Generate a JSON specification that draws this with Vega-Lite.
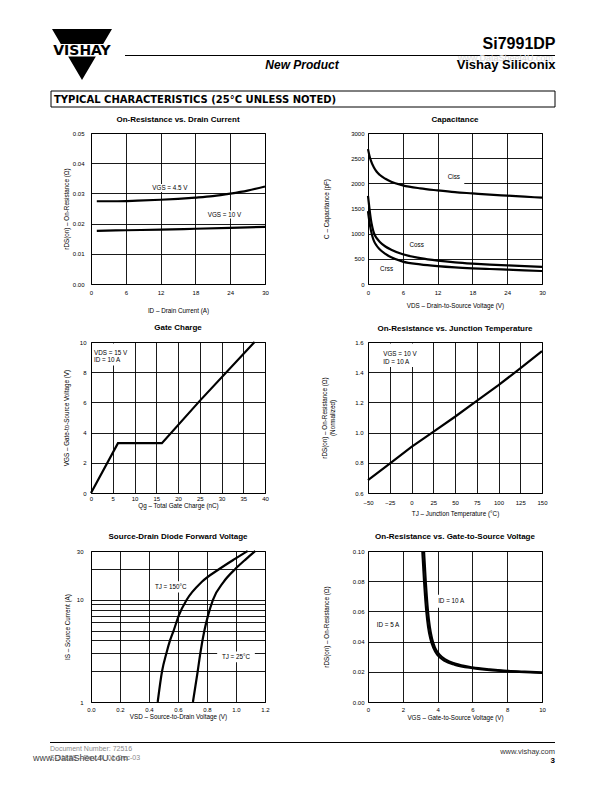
{
  "$schema": "https://vega.github.io/schema/vega-lite/v6.json",
  "background": "white",
  "padding": {"left": 33, "top": 29, "right": 4, "bottom": 4},
  "columns": 2,
  "bounds": "flush",
  "align": "each",
  "spacing": {"row": 58, "column": 103},
  "config": {
    "font": "Liberation Sans",
    "view": {"stroke": "black", "strokeWidth": 1},
    "axis": {"domain": false, "ticks": false, "tickSize": 0, "grid": true, "gridColor": "black", "gridOpacity": 1, "gridWidth": 0.9,
      "labelFont": "Liberation Sans", "labelFontSize": 6, "labelColor": "black", "labelFlush": false, "labelOverlap": false, "labelBound": false,
      "titleFont": "Liberation Sans", "titleFontSize": 6.3, "titleFontWeight": "normal", "titleColor": "black"},
    "title": {"font": "Liberation Sans", "fontSize": 8, "fontWeight": "bold", "color": "black", "offset": 6, "anchor": "middle"},
    "line": {"stroke": "black", "strokeWidth": 2.2},
    "text": {"font": "Liberation Sans", "fontSize": 6.3, "fill": "black"}
  },
  "datasets": {
    "p1": [
      {"s": "4.5", "x": 1, "y": 0.0274}, {"s": "4.5", "x": 4, "y": 0.0274}, {"s": "4.5", "x": 8, "y": 0.0276}, {"s": "4.5", "x": 12, "y": 0.0279},
      {"s": "4.5", "x": 15, "y": 0.0282}, {"s": "4.5", "x": 18, "y": 0.0286}, {"s": "4.5", "x": 21, "y": 0.0291}, {"s": "4.5", "x": 24, "y": 0.0299},
      {"s": "4.5", "x": 27, "y": 0.0309}, {"s": "4.5", "x": 30, "y": 0.0323},
      {"s": "10", "x": 1, "y": 0.0176}, {"s": "10", "x": 6, "y": 0.0178}, {"s": "10", "x": 12, "y": 0.018}, {"s": "10", "x": 18, "y": 0.0183},
      {"s": "10", "x": 24, "y": 0.0186}, {"s": "10", "x": 30, "y": 0.0189}
    ],
    "p1a": [{"t": "VGS = 4.5 V", "x": 13.6, "y": 0.0318}, {"t": "VGS = 10 V", "x": 23.0, "y": 0.023}],
    "p1b": [{"x": 10.8, "x2": 16.4, "y": 0.0305, "y2": 0.0331}, {"x": 20.1, "x2": 26.0, "y": 0.0217, "y2": 0.0243}],
    "p2": [
      {"s": "Ciss", "x": 0, "y": 2680}, {"s": "Ciss", "x": 0.25, "y": 2550}, {"s": "Ciss", "x": 0.5, "y": 2450}, {"s": "Ciss", "x": 1, "y": 2320},
      {"s": "Ciss", "x": 1.5, "y": 2230}, {"s": "Ciss", "x": 2, "y": 2170}, {"s": "Ciss", "x": 3, "y": 2090}, {"s": "Ciss", "x": 4, "y": 2030},
      {"s": "Ciss", "x": 6, "y": 1960}, {"s": "Ciss", "x": 9, "y": 1900}, {"s": "Ciss", "x": 12, "y": 1860}, {"s": "Ciss", "x": 15, "y": 1825},
      {"s": "Ciss", "x": 18, "y": 1800}, {"s": "Ciss", "x": 21, "y": 1775}, {"s": "Ciss", "x": 24, "y": 1755}, {"s": "Ciss", "x": 27, "y": 1735},
      {"s": "Ciss", "x": 30, "y": 1715},
      {"s": "Coss", "x": 0, "y": 1750}, {"s": "Coss", "x": 0.25, "y": 1500}, {"s": "Coss", "x": 0.5, "y": 1280}, {"s": "Coss", "x": 0.75, "y": 1130},
      {"s": "Coss", "x": 1, "y": 1020}, {"s": "Coss", "x": 1.5, "y": 910}, {"s": "Coss", "x": 2, "y": 840}, {"s": "Coss", "x": 3, "y": 745},
      {"s": "Coss", "x": 4, "y": 680}, {"s": "Coss", "x": 6, "y": 590}, {"s": "Coss", "x": 9, "y": 515}, {"s": "Coss", "x": 12, "y": 465},
      {"s": "Coss", "x": 15, "y": 430}, {"s": "Coss", "x": 18, "y": 405}, {"s": "Coss", "x": 21, "y": 385}, {"s": "Coss", "x": 24, "y": 370},
      {"s": "Coss", "x": 27, "y": 355}, {"s": "Coss", "x": 30, "y": 340},
      {"s": "Crss", "x": 0, "y": 1450}, {"s": "Crss", "x": 0.25, "y": 1230}, {"s": "Crss", "x": 0.5, "y": 1070}, {"s": "Crss", "x": 0.75, "y": 950},
      {"s": "Crss", "x": 1, "y": 860}, {"s": "Crss", "x": 1.5, "y": 760}, {"s": "Crss", "x": 2, "y": 690}, {"s": "Crss", "x": 3, "y": 600},
      {"s": "Crss", "x": 4, "y": 530}, {"s": "Crss", "x": 6, "y": 445}, {"s": "Crss", "x": 9, "y": 390}, {"s": "Crss", "x": 12, "y": 355},
      {"s": "Crss", "x": 15, "y": 330}, {"s": "Crss", "x": 18, "y": 312}, {"s": "Crss", "x": 21, "y": 298}, {"s": "Crss", "x": 24, "y": 285},
      {"s": "Crss", "x": 27, "y": 272}, {"s": "Crss", "x": 30, "y": 258}
    ],
    "p2a": [{"t": "Ciss", "x": 14.8, "y": 2128}, {"t": "Coss", "x": 8.4, "y": 773}, {"t": "Crss", "x": 3.2, "y": 291}],
    "p2b": [{"x": 12.4, "x2": 16.6, "y": 1980, "y2": 2280}],
    "p3": [{"s": "q", "x": 0, "y": 0}, {"s": "q", "x": 6.2, "y": 3.3}, {"s": "q", "x": 16.3, "y": 3.3}, {"s": "q", "x": 25, "y": 6.1}, {"s": "q", "x": 37.6, "y": 10}],
    "p3a": [{"t": "VDS = 15 V", "x": 0.7, "y": 9.25}, {"t": "ID = 10 A", "x": 0.7, "y": 8.78}],
    "p3b": [{"x": 0.3, "x2": 9.6, "y": 8.45, "y2": 9.9}],
    "p4": [
      {"s": "t", "x": -50, "y": 0.685}, {"s": "t", "x": -25, "y": 0.795}, {"s": "t", "x": 0, "y": 0.905}, {"s": "t", "x": 25, "y": 1.005},
      {"s": "t", "x": 50, "y": 1.105}, {"s": "t", "x": 75, "y": 1.21}, {"s": "t", "x": 100, "y": 1.315}, {"s": "t", "x": 125, "y": 1.425},
      {"s": "t", "x": 150, "y": 1.54}
    ],
    "p4a": [{"t": "VGS = 10 V", "x": -32.5, "y": 1.523}, {"t": "ID = 10 A", "x": -32.5, "y": 1.47}],
    "p4b": [{"x": -45, "x2": 12, "y": 1.435, "y2": 1.59}],
    "p5": [
      {"s": "150", "x": 0.46, "y": 1}, {"s": "150", "x": 0.49, "y": 2}, {"s": "150", "x": 0.52, "y": 3}, {"s": "150", "x": 0.545, "y": 4},
      {"s": "150", "x": 0.57, "y": 5}, {"s": "150", "x": 0.605, "y": 7}, {"s": "150", "x": 0.66, "y": 10}, {"s": "150", "x": 0.765, "y": 15},
      {"s": "150", "x": 0.885, "y": 20}, {"s": "150", "x": 0.99, "y": 25}, {"s": "150", "x": 1.08, "y": 30},
      {"s": "25", "x": 0.703, "y": 1}, {"s": "25", "x": 0.736, "y": 2}, {"s": "25", "x": 0.754, "y": 3}, {"s": "25", "x": 0.782, "y": 5},
      {"s": "25", "x": 0.807, "y": 7}, {"s": "25", "x": 0.841, "y": 10}, {"s": "25", "x": 0.915, "y": 15}, {"s": "25", "x": 0.995, "y": 20},
      {"s": "25", "x": 1.069, "y": 25}, {"s": "25", "x": 1.133, "y": 30}
    ],
    "p5a": [{"t": "TJ = 150°C", "x": 0.55, "y": 13.3}, {"t": "TJ = 25°C", "x": 1.0, "y": 2.76}],
    "p5b": [{"x": 0.42, "x2": 0.68, "y": 11.8, "y2": 15.2}, {"x": 0.87, "x2": 1.13, "y": 2.45, "y2": 3.12}],
    "p6": [
      {"s": "10", "x": 3.22, "y": 0.1}, {"s": "10", "x": 3.27, "y": 0.09}, {"s": "10", "x": 3.32, "y": 0.08}, {"s": "10", "x": 3.38, "y": 0.07},
      {"s": "10", "x": 3.45, "y": 0.06}, {"s": "10", "x": 3.55, "y": 0.05}, {"s": "10", "x": 3.68, "y": 0.042}, {"s": "10", "x": 3.85, "y": 0.036},
      {"s": "10", "x": 4.1, "y": 0.0315}, {"s": "10", "x": 4.5, "y": 0.0278}, {"s": "10", "x": 5, "y": 0.0254}, {"s": "10", "x": 6, "y": 0.0229},
      {"s": "10", "x": 7, "y": 0.0216}, {"s": "10", "x": 8, "y": 0.0207}, {"s": "10", "x": 9, "y": 0.0201}, {"s": "10", "x": 10, "y": 0.0196},
      {"s": "5", "x": 3.12, "y": 0.1}, {"s": "5", "x": 3.17, "y": 0.09}, {"s": "5", "x": 3.22, "y": 0.08}, {"s": "5", "x": 3.28, "y": 0.07},
      {"s": "5", "x": 3.35, "y": 0.06}, {"s": "5", "x": 3.45, "y": 0.05}, {"s": "5", "x": 3.58, "y": 0.042}, {"s": "5", "x": 3.75, "y": 0.036},
      {"s": "5", "x": 4.0, "y": 0.031}, {"s": "5", "x": 4.4, "y": 0.0272}, {"s": "5", "x": 5, "y": 0.0246}, {"s": "5", "x": 6, "y": 0.0224},
      {"s": "5", "x": 7, "y": 0.0211}, {"s": "5", "x": 8, "y": 0.0203}, {"s": "5", "x": 9, "y": 0.0197}, {"s": "5", "x": 10, "y": 0.0192}
    ],
    "p6a": [{"t": "ID = 10 A", "x": 4.78, "y": 0.0668}, {"t": "ID = 5 A", "x": 1.15, "y": 0.0512}],
    "p6b": [{"x": 3.85, "x2": 5.7, "y": 0.0625, "y2": 0.071}, {"x": 0.35, "x2": 1.95, "y": 0.047, "y2": 0.0555}]
  },
  "concat": [
    {
      "width": 174, "height": 45.5,
      "view": {"stroke": null},
      "layer": [
        {"data": {"values": [{"t": "logo"}]},
         "mark": {"type": "point", "shape": "M-1,-0.85L1,-0.85L0.706,-0.35L-0.706,-0.35ZM-0.461,0.067L0.461,0.067L0,0.85Z", "size": 3600, "filled": true, "fill": "black", "strokeWidth": 0, "opacity": 1},
         "encoding": {"x": {"datum": 82, "type": "quantitative", "scale": {"domain": [91, 265], "nice": false, "zero": false}, "axis": null},
                      "y": {"datum": 54.5, "type": "quantitative", "scale": {"domain": [29, 74.5], "nice": false, "zero": false, "reverse": true}, "axis": null}}},
        {"data": {"values": [{"t": "VISHAY"}]},
         "mark": {"type": "text", "font": "DejaVu Sans", "fontWeight": "bold", "fontSize": 14, "align": "center", "baseline": "alphabetic", "fill": "black"},
         "encoding": {"x": {"datum": 82, "type": "quantitative", "scale": {"domain": [91, 265], "nice": false, "zero": false}, "axis": null},
                      "y": {"datum": 55, "type": "quantitative", "scale": {"domain": [29, 74.5], "nice": false, "zero": false, "reverse": true}, "axis": null},
                      "text": {"field": "t"}}},
        {"data": {"values": [{"t": "rule"}]},
         "mark": {"type": "rule", "stroke": "black", "strokeWidth": 1.2},
         "encoding": {"x": {"datum": 125, "type": "quantitative", "scale": {"domain": [91, 265], "nice": false, "zero": false}, "axis": null},
                      "x2": {"datum": 555},
                      "y": {"datum": 55.5, "type": "quantitative", "scale": {"domain": [29, 74.5], "nice": false, "zero": false, "reverse": true}, "axis": null}}},
        {"data": {"values": [{"t": "New Product"}]},
         "mark": {"type": "text", "font": "Liberation Sans", "fontWeight": "bold", "fontStyle": "italic", "fontSize": 12, "align": "center", "baseline": "alphabetic", "fill": "black"},
         "encoding": {"x": {"datum": 302, "type": "quantitative", "scale": {"domain": [91, 265], "nice": false, "zero": false}, "axis": null},
                      "y": {"datum": 69, "type": "quantitative", "scale": {"domain": [29, 74.5], "nice": false, "zero": false, "reverse": true}, "axis": null},
                      "text": {"field": "t"}}},
        {"data": {"values": [{"t": "www.DataSheet4U.com"}]},
         "mark": {"type": "text", "font": "Liberation Sans", "fontSize": 9, "align": "right", "baseline": "alphabetic", "fill": "#d8d8d8"},
         "encoding": {"x": {"datum": 553, "type": "quantitative", "scale": {"domain": [91, 265], "nice": false, "zero": false}, "axis": null},
                      "y": {"datum": 61, "type": "quantitative", "scale": {"domain": [29, 74.5], "nice": false, "zero": false, "reverse": true}, "axis": null},
                      "text": {"field": "t"}}},
        {"data": {"values": [{"t": "box"}]},
         "mark": {"type": "rect", "fill": "white", "stroke": "black", "strokeWidth": 1},
         "encoding": {"x": {"datum": 51, "type": "quantitative", "scale": {"domain": [91, 265], "nice": false, "zero": false}, "axis": null},
                      "x2": {"datum": 555},
                      "y": {"datum": 91, "type": "quantitative", "scale": {"domain": [29, 74.5], "nice": false, "zero": false, "reverse": true}, "axis": null},
                      "y2": {"datum": 107}}},
        {"data": {"values": [{"t": "TYPICAL CHARACTERISTICS (25°C UNLESS NOTED)"}]},
         "mark": {"type": "text", "font": "DejaVu Sans", "fontWeight": "bold", "fontSize": 10, "align": "left", "baseline": "alphabetic", "fill": "black"},
         "encoding": {"x": {"datum": 54, "type": "quantitative", "scale": {"domain": [91, 265], "nice": false, "zero": false}, "axis": null},
                      "y": {"datum": 103, "type": "quantitative", "scale": {"domain": [29, 74.5], "nice": false, "zero": false, "reverse": true}, "axis": null},
                      "text": {"field": "t"}}}
      ]
    },
    {
      "width": 174, "height": 45.5,
      "view": {"stroke": null},
      "layer": [
        {"data": {"values": [{"t": "Si7991DP"}]},
         "mark": {"type": "text", "font": "Liberation Sans", "fontWeight": "bold", "fontSize": 16, "align": "right", "baseline": "alphabetic", "fill": "black"},
         "encoding": {"x": {"datum": 555.5, "type": "quantitative", "scale": {"domain": [368, 542], "nice": false, "zero": false}, "axis": null},
                      "y": {"datum": 49, "type": "quantitative", "scale": {"domain": [29, 74.5], "nice": false, "zero": false, "reverse": true}, "axis": null},
                      "text": {"field": "t"}}},
        {"data": {"values": [{"t": "Vishay Siliconix"}]},
         "mark": {"type": "text", "font": "Liberation Sans", "fontWeight": "bold", "fontSize": 13, "align": "right", "baseline": "alphabetic", "fill": "black"},
         "encoding": {"x": {"datum": 555.5, "type": "quantitative", "scale": {"domain": [368, 542], "nice": false, "zero": false}, "axis": null},
                      "y": {"datum": 68.5, "type": "quantitative", "scale": {"domain": [29, 74.5], "nice": false, "zero": false, "reverse": true}, "axis": null},
                      "text": {"field": "t"}}}
      ]
    },
    {
      "width": 174, "height": 151,
      "title": "On-Resistance vs. Drain Current",
      "encoding": {
        "x": {"field": "x", "type": "quantitative", "scale": {"domain": [0, 30], "nice": false, "zero": false},
              "axis": {"values": [0, 6, 12, 18, 24, 30], "format": "d", "title": "ID  –  Drain Current (A)", "labelPadding": 5, "titlePadding": 12}},
        "y": {"field": "y", "type": "quantitative", "scale": {"domain": [0, 0.05], "nice": false, "zero": false},
              "axis": {"values": [0, 0.01, 0.02, 0.03, 0.04, 0.05], "format": ".2f", "title": "rDS(on)  –  On-Resistance (Ω)", "labelPadding": 7, "titlePadding": 3}}
      },
      "layer": [
        {"data": {"name": "p1b"}, "mark": {"type": "rect", "fill": "white"}, "encoding": {"x2": {"field": "x2"}, "y2": {"field": "y2"}}},
        {"data": {"name": "p1"}, "mark": {"type": "line", "interpolate": "monotone"}, "encoding": {"detail": {"field": "s"}}},
        {"data": {"name": "p1a"}, "mark": {"type": "text"}, "encoding": {"text": {"field": "t"}}}
      ]
    },
    {
      "width": 174, "height": 151,
      "title": "Capacitance",
      "encoding": {
        "x": {"field": "x", "type": "quantitative", "scale": {"domain": [0, 30], "nice": false, "zero": false},
              "axis": {"values": [0, 6, 12, 18, 24, 30], "format": "d", "title": "VDS  –  Drain-to-Source Voltage (V)", "labelPadding": 5, "titlePadding": 7}},
        "y": {"field": "y", "type": "quantitative", "scale": {"domain": [0, 3000], "nice": false, "zero": false},
              "axis": {"values": [0, 500, 1000, 1500, 2000, 2500, 3000], "format": "d", "title": "C  –  Capacitance (pF)", "labelPadding": 4, "titlePadding": 21}}
      },
      "layer": [
        {"data": {"name": "p2b"}, "mark": {"type": "rect", "fill": "white"}, "encoding": {"x2": {"field": "x2"}, "y2": {"field": "y2"}}},
        {"data": {"name": "p2"}, "mark": {"type": "line", "interpolate": "monotone"}, "encoding": {"detail": {"field": "s"}}},
        {"data": {"name": "p2a"}, "mark": {"type": "text"}, "encoding": {"text": {"field": "t"}}}
      ]
    },
    {
      "width": 174, "height": 151,
      "title": "Gate Charge",
      "encoding": {
        "x": {"field": "x", "type": "quantitative", "scale": {"domain": [0, 40], "nice": false, "zero": false},
              "axis": {"values": [0, 5, 10, 15, 20, 25, 30, 35, 40], "format": "d", "title": "Qg  –  Total Gate Charge (nC)", "labelPadding": 2, "titlePadding": 1}},
        "y": {"field": "y", "type": "quantitative", "scale": {"domain": [0, 10], "nice": false, "zero": false},
              "axis": {"values": [0, 2, 4, 6, 8, 10], "format": "d", "title": "VGS  –  Gate-to-Source Voltage (V)", "labelPadding": 5, "titlePadding": 10}}
      },
      "layer": [
        {"data": {"name": "p3b"}, "mark": {"type": "rect", "fill": "white"}, "encoding": {"x2": {"field": "x2"}, "y2": {"field": "y2"}}},
        {"data": {"name": "p3"}, "mark": {"type": "line"}, "encoding": {"detail": {"field": "s"}}},
        {"data": {"name": "p3a"}, "mark": {"type": "text", "align": "left"}, "encoding": {"text": {"field": "t"}}}
      ]
    },
    {
      "width": 174, "height": 151,
      "title": "On-Resistance vs. Junction Temperature",
      "encoding": {
        "x": {"field": "x", "type": "quantitative", "scale": {"domain": [-50, 150], "nice": false, "zero": false},
              "axis": {"values": [-50, -25, 0, 25, 50, 75, 100, 125, 150], "format": "d", "title": "TJ – Junction Temperature (°C)", "labelPadding": 6, "titlePadding": 5}},
        "y": {"field": "y", "type": "quantitative", "scale": {"domain": [0.6, 1.6], "nice": false, "zero": false},
              "axis": {"values": [0.6, 0.8, 1.0, 1.2, 1.4, 1.6], "format": ".1f", "title": ["rDS(on)  –  On-Resistance (Ω)", "(Normalized)"], "labelPadding": 5, "titlePadding": 19}}
      },
      "layer": [
        {"data": {"name": "p4b"}, "mark": {"type": "rect", "fill": "white"}, "encoding": {"x2": {"field": "x2"}, "y2": {"field": "y2"}}},
        {"data": {"name": "p4"}, "mark": {"type": "line"}, "encoding": {"detail": {"field": "s"}}},
        {"data": {"name": "p4a"}, "mark": {"type": "text", "align": "left"}, "encoding": {"text": {"field": "t"}}}
      ]
    },
    {
      "width": 174, "height": 151,
      "title": "Source-Drain Diode Forward Voltage",
      "encoding": {
        "x": {"field": "x", "type": "quantitative", "scale": {"domain": [0, 1.2], "nice": false, "zero": false},
              "axis": {"values": [0, 0.2, 0.4, 0.6, 0.8, 1.0, 1.2], "format": ".1f", "title": "VSD  –  Source-to-Drain Voltage (V)", "labelPadding": 4, "titlePadding": 1.5}},
        "y": {"field": "y", "type": "quantitative", "scale": {"type": "log", "domain": [1, 30], "nice": false},
              "axis": {"values": [1, 2, 3, 4, 5, 6, 7, 8, 9, 10, 20, 30], "format": "d", "labelExpr": "datum.value == 1 || datum.value == 10 || datum.value == 30 ? datum.label : ''", "title": "IS  –  Source Current (A)", "labelPadding": 8, "titlePadding": 6}}
      },
      "layer": [
        {"data": {"name": "p5b"}, "mark": {"type": "rect", "fill": "white"}, "encoding": {"x2": {"field": "x2"}, "y2": {"field": "y2"}}},
        {"data": {"name": "p5"}, "mark": {"type": "line", "interpolate": "monotone"}, "encoding": {"detail": {"field": "s"}}},
        {"data": {"name": "p5a"}, "mark": {"type": "text"}, "encoding": {"text": {"field": "t"}}}
      ]
    },
    {
      "width": 174, "height": 151,
      "title": "On-Resistance vs. Gate-to-Source Voltage",
      "encoding": {
        "x": {"field": "x", "type": "quantitative", "scale": {"domain": [0, 10], "nice": false, "zero": false},
              "axis": {"values": [0, 2, 4, 6, 8, 10], "format": "d", "title": "VGS – Gate-to-Source Voltage (V)", "labelPadding": 4, "titlePadding": 2}},
        "y": {"field": "y", "type": "quantitative", "scale": {"domain": [0, 0.1], "nice": false, "zero": false},
              "axis": {"values": [0, 0.02, 0.04, 0.06, 0.08, 0.1], "format": ".2f", "title": "rDS(on)  –  On-Resistance (Ω)", "labelPadding": 4, "titlePadding": 23}}
      },
      "layer": [
        {"data": {"name": "p6b"}, "mark": {"type": "rect", "fill": "white"}, "encoding": {"x2": {"field": "x2"}, "y2": {"field": "y2"}}},
        {"data": {"name": "p6"}, "mark": {"type": "line", "interpolate": "monotone"}, "encoding": {"detail": {"field": "s"}}},
        {"data": {"name": "p6a"}, "mark": {"type": "text"}, "encoding": {"text": {"field": "t"}}}
      ]
    },
    {
      "width": 174, "height": 20,
      "view": {"stroke": null},
      "layer": [
        {"data": {"values": [{"t": "rule"}]},
         "mark": {"type": "rule", "stroke": "black", "strokeWidth": 1.2},
         "encoding": {"x": {"datum": 50, "type": "quantitative", "scale": {"domain": [91, 265], "nice": false, "zero": false}, "axis": null},
                      "x2": {"datum": 555},
                      "y": {"datum": 742, "type": "quantitative", "scale": {"domain": [759.5, 779.5], "nice": false, "zero": false, "reverse": true}, "axis": null}}},
        {"data": {"values": [{"t": "Document Number:  72516"}]},
         "mark": {"type": "text", "font": "Liberation Sans", "fontSize": 7, "align": "left", "baseline": "alphabetic", "fill": "#8a8a8a"},
         "encoding": {"x": {"datum": 50, "type": "quantitative", "scale": {"domain": [91, 265], "nice": false, "zero": false}, "axis": null},
                      "y": {"datum": 750.5, "type": "quantitative", "scale": {"domain": [759.5, 779.5], "nice": false, "zero": false, "reverse": true}, "axis": null},
                      "text": {"field": "t"}}},
        {"data": {"values": [{"t": "S-31888—Rev. A, 01-Dec-03"}]},
         "mark": {"type": "text", "font": "Liberation Sans", "fontSize": 7, "align": "left", "baseline": "alphabetic", "fill": "#8a8a8a"},
         "encoding": {"x": {"datum": 50, "type": "quantitative", "scale": {"domain": [91, 265], "nice": false, "zero": false}, "axis": null},
                      "y": {"datum": 759, "type": "quantitative", "scale": {"domain": [759.5, 779.5], "nice": false, "zero": false, "reverse": true}, "axis": null},
                      "text": {"field": "t"}}},
        {"data": {"values": [{"t": "www.DataSheet4U.com"}]},
         "mark": {"type": "text", "font": "Liberation Sans", "fontSize": 9, "align": "left", "baseline": "alphabetic", "fill": "#444444"},
         "encoding": {"x": {"datum": 33, "type": "quantitative", "scale": {"domain": [91, 265], "nice": false, "zero": false}, "axis": null},
                      "y": {"datum": 760, "type": "quantitative", "scale": {"domain": [759.5, 779.5], "nice": false, "zero": false, "reverse": true}, "axis": null},
                      "text": {"field": "t"}}}
      ]
    },
    {
      "width": 174, "height": 20,
      "view": {"stroke": null},
      "layer": [
        {"data": {"values": [{"t": "www.vishay.com"}]},
         "mark": {"type": "text", "font": "Liberation Sans", "fontSize": 7.5, "align": "right", "baseline": "alphabetic", "fill": "#333333"},
         "encoding": {"x": {"datum": 555, "type": "quantitative", "scale": {"domain": [368, 542], "nice": false, "zero": false}, "axis": null},
                      "y": {"datum": 753, "type": "quantitative", "scale": {"domain": [759.5, 779.5], "nice": false, "zero": false, "reverse": true}, "axis": null},
                      "text": {"field": "t"}}},
        {"data": {"values": [{"t": "3"}]},
         "mark": {"type": "text", "font": "Liberation Sans", "fontSize": 8, "fontWeight": "bold", "align": "right", "baseline": "alphabetic", "fill": "black"},
         "encoding": {"x": {"datum": 555, "type": "quantitative", "scale": {"domain": [368, 542], "nice": false, "zero": false}, "axis": null},
                      "y": {"datum": 762.5, "type": "quantitative", "scale": {"domain": [759.5, 779.5], "nice": false, "zero": false, "reverse": true}, "axis": null},
                      "text": {"field": "t"}}}
      ]
    }
  ]
}
